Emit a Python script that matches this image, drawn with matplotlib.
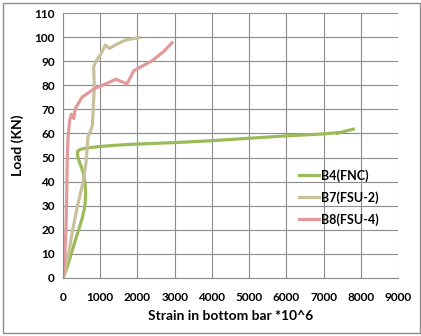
import matplotlib.pyplot as plt
from matplotlib.patches import Rectangle

plt.rcParams['font.family'] = ['Lato', 'DejaVu Sans']
plt.rcParams['font.weight'] = 'bold'

# B4(FNC)
b4_strain = [0, 100, 200, 300, 420, 520, 590, 610, 590, 540, 470, 410, 385,
             395, 450, 600, 1000, 1500, 2000, 3000, 4000, 5000, 6000, 6500,
             7000, 7400, 7360, 7600, 7800]
b4_load = [0, 4, 9, 14, 20, 25, 30, 35, 40, 44, 47, 49.5, 51.5,
           52.6, 53.3, 53.9, 54.6, 55.2, 55.6, 56.2, 57.0, 58.0, 59.0, 59.4,
           59.8, 60.4, 60.1, 61.0, 61.8]

# B7(FSU-2)
b7_strain = [0, 150, 260, 390, 540, 620, 670, 740, 790, 823, 842, 823, 914,
             1003, 1137, 1244, 1450, 1673, 1860, 2050]
b7_load = [0, 10, 20, 30, 40, 48, 58.6, 61, 63.4, 73.8, 79.4, 87.7, 90.7,
           92.5, 96.7, 95.3, 97.1, 98.7, 99.3, 99.8]

# B8(FSU-4)
b8_strain = [0, 50, 80, 95, 105, 115, 136, 180, 225, 290, 330, 510, 830, 1180,
             1420, 1720, 1900, 2250, 2400, 2700, 2930]
b8_load = [0, 10, 20, 30, 40, 50, 58.6, 65.5, 68, 66.2, 70.4, 75, 78.5, 80.8,
           82.5, 80.6, 86, 89, 90.2, 94, 97.6]

fig = plt.figure(figsize=(4.21, 3.36), dpi=100)
ax = fig.add_axes([63/421, 1 - 278/336, 335/421, 265/336])

ax.plot(b4_strain, b4_load, color='#9BBB59', lw=2.3, label='B4(FNC)')
ax.plot(b7_strain, b7_load, color='#C9C19B', lw=2.3, label='B7(FSU-2)')
ax.plot(b8_strain, b8_load, color='#E29A9A', lw=2.3, label='B8(FSU-4)')

ax.set_xlim(0, 9000)
ax.set_ylim(0, 110)
ax.set_xticks(range(0, 9001, 1000))
ax.set_yticks(range(0, 111, 10))
ax.grid(True, color='#8C8C8C', lw=0.8)
ax.set_axisbelow(True)
for side in ['top', 'right']:
    ax.spines[side].set_visible(False)
for side in ['left', 'bottom']:
    ax.spines[side].set_color('#8C8C8C')
    ax.spines[side].set_linewidth(0.8)
ax.tick_params(length=0, labelsize=8.5, pad=6)
ax.tick_params(axis='x', pad=10)

ax.set_xlabel('Strain in bottom bar *10^6', fontsize=10, fontweight='bold', labelpad=5)
ax.set_ylabel('Load (KN)', fontsize=10, fontweight='bold', labelpad=7)

leg = ax.legend(loc='upper left', bbox_to_anchor=(0.69, 0.43), frameon=False,
                fontsize=9, handlelength=1.6, handletextpad=0.15,
                labelspacing=0.75, borderaxespad=0)

# outer chart frame
fig.patches.append(Rectangle((3/421, 3/336), 417/421, 330/336,
                             transform=fig.transFigure, fill=False,
                             edgecolor='#8C8C8C', lw=1))

fig.savefig('out.png', dpi=100)
